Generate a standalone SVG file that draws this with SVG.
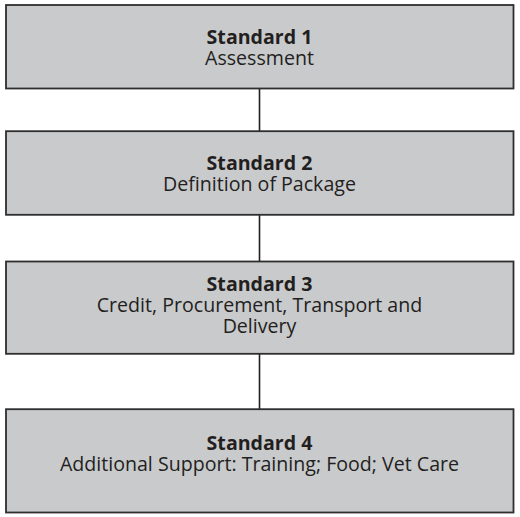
<svg xmlns="http://www.w3.org/2000/svg" width="520" height="517" viewBox="0 0 520 517">
<style>
.box{fill:#c9cacc;stroke:#2e2e2e;stroke-width:1.8}
.t{font-family:"Open Sans","Noto Sans","Liberation Sans",sans-serif;font-size:19.6px;fill:#231f20;text-anchor:middle}
.b{font-weight:bold}
.c{stroke:#231f20;stroke-width:1.6;fill:none}
</style>
<rect width="520" height="517" fill="#ffffff"/>
<g id="connectors">
<line class="c" x1="259.5" y1="88.5" x2="259.5" y2="131.2"/>
<line class="c" x1="259.5" y1="214.8" x2="259.5" y2="261.5"/>
<line class="c" x1="259.5" y1="353.8" x2="259.5" y2="409.2"/>
</g>
<g id="standard1">
<rect class="box" x="6" y="5" width="507.5" height="83.5"/>
<text class="t b" x="259.5" y="43.7">Standard 1</text>
<text class="t" x="259.5" y="64.8">Assessment</text>
</g>
<g id="standard2">
<rect class="box" x="6" y="131.2" width="507.5" height="83.6"/>
<text class="t b" x="259.5" y="170.1">Standard 2</text>
<text class="t" x="259.5" y="191.2">Definition of Package</text>
</g>
<g id="standard3">
<rect class="box" x="6" y="261.5" width="507.5" height="92.3"/>
<text class="t b" x="259.5" y="291.1">Standard 3</text>
<text class="t" x="259.5" y="312.2">Credit, Procurement, Transport and</text>
<text class="t" x="259.5" y="333.3">Delivery</text>
</g>
<g id="standard4">
<rect class="box" x="6" y="409.2" width="507.5" height="103.3"/>
<text class="t b" x="259.5" y="449.8">Standard 4</text>
<text class="t" x="259.5" y="470.9">Additional Support: Training; Food; Vet Care</text>
</g>
</svg>
